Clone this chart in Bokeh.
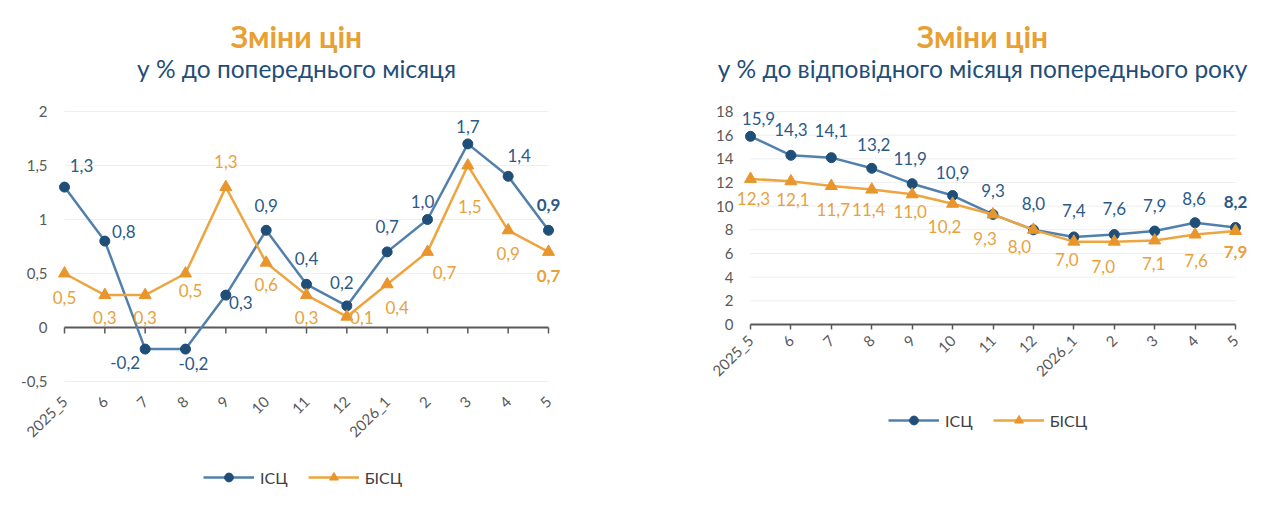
import math

from bokeh.core.properties import value
from bokeh.embed import file_html
from bokeh.layouts import row
from bokeh.models import ColumnDataSource, FixedTicker, Label, Legend, LegendItem, Range1d
from bokeh.plotting import figure
from bokeh.resources import INLINE

# ---- data -------------------------------------------------------------
months = ["2025_5", "6", "7", "8", "9", "10", "11", "12", "2026_1", "2", "3", "4", "5"]

cpi_mom = [1.3, 0.8, -0.2, -0.2, 0.3, 0.9, 0.4, 0.2, 0.7, 1.0, 1.7, 1.4, 0.9]
core_mom = [0.5, 0.3, 0.3, 0.5, 1.3, 0.6, 0.3, 0.1, 0.4, 0.7, 1.5, 0.9, 0.7]

cpi_yoy = [15.9, 14.3, 14.1, 13.2, 11.9, 10.9, 9.3, 8.0, 7.4, 7.6, 7.9, 8.6, 8.2]
core_yoy = [12.3, 12.1, 11.7, 11.4, 11.0, 10.2, 9.3, 8.0, 7.0, 7.0, 7.1, 7.6, 7.9]

mom_ticks = [-0.5, 0, 0.5, 1, 1.5, 2]
mom_tick_labels = ["-0,5", "0", "0,5", "1", "1,5", "2"]
yoy_ticks = [0, 2, 4, 6, 8, 10, 12, 14, 16, 18]
yoy_tick_labels = ["0", "2", "4", "6", "8", "10", "12", "14", "16", "18"]

series_names = ["ІСЦ", "БІСЦ"]
title_text = "Зміни цін"
subtitle_mom = "у % до попереднього місяця"
subtitle_yoy = "у % до відповідного місяця попереднього року"

# ---- styling ----------------------------------------------------------
FONT = "Lato"
ORANGE_TITLE = "#E8A033"
NAVY_TEXT = "#1F4E79"
BLUE_LINE = "#5180AD"
BLUE_MARK = "#1F4E79"
BLUE_LABEL = "#2C5A88"
ORANGE_LINE = "#EDA540"
ORANGE_MARK = "#E8952C"
ORANGE_LABEL = "#E8A23C"
AXIS_GREY = "#595959"
GRID = "#EEEEEE"
W, H = 640, 506

# data-label offsets in pixels (dx, dy; dy positive = downwards)
cpi_mom_off = [(17, -22), (19, -10), (-20, 13), (8, 14), (15, 7), (0, -25), (0, -26),
               (-5, -23), (0, -25), (-5, -18), (0, -17), (11, -21), (0, -25)]
core_mom_off = [(0, 24), (0, 22), (0, 22), (5, 17), (0, -26), (0, 22), (0, 22),
                (15, 1), (10, 23), (17, 21), (2, 41), (0, 23), (0, 24)]
cpi_yoy_off = [(8, -18), (0, -26), (0, -27), (2, -24), (-2, -25), (0, -23), (0, -24),
               (0, -26), (0, -26), (0, -26), (0, -26), (-1, -24), (0, -25)]
core_yoy_off = [(3, 20), (2, 18), (2, 23), (-3, 20), (-2, 17), (-8, 23), (-8, 24),
                (-14, 17), (-7, 18), (-11, 25), (-1, 23), (1, 26), (0, 21)]


def fmt(v):
    return f"{v:.1f}".replace(".", ",")


def label_source(xs, ys, offsets):
    n = len(xs)
    return ColumnDataSource(dict(
        x=xs, y=ys, text=[fmt(v) for v in ys],
        dx=[o[0] for o in offsets], dy=[o[1] for o in offsets],
        style=["bold" if i == n - 1 else "normal" for i in range(n)],
    ))


def make_chart(subtitle, cpi, core, ticks, tick_labels, geom, cpi_off, core_off,
               labels_at, label_standoff, title_x, legend_loc):
    """geom = (pixel of first category, px per category, top-anchor value,
    its pixel row, px per unit) -- the plot frame covers the whole canvas."""
    x0_px, ppx, y_ref, y_ref_px, ppy = geom
    x_start = -x0_px / ppx
    y_end = y_ref + y_ref_px / ppy
    p = figure(width=W, height=H, output_backend="svg", toolbar_location=None,
               x_range=Range1d(x_start, x_start + W / ppx),
               y_range=Range1d(y_end - H / ppy, y_end),
               min_border_left=0, min_border_right=0,
               min_border_top=0, min_border_bottom=0)
    p.outline_line_color = None
    p.background_fill_color = "white"
    p.border_fill_color = "white"
    p.xgrid.visible = False
    p.ygrid.visible = False

    xs = list(range(len(months)))

    # horizontal grid lines spanning the category range
    p.segment(x0=[xs[0]] * len(ticks), x1=[xs[-1]] * len(ticks), y0=ticks, y1=ticks,
              line_color=GRID, line_width=1)

    # category axis
    xa = p.xaxis[0]
    xa.fixed_location = labels_at
    xa.ticker = FixedTicker(ticks=xs)
    xa.major_label_overrides = {i: m for i, m in enumerate(months)}
    xa.major_label_orientation = math.pi / 4
    xa.major_label_text_font = FONT
    xa.major_label_text_font_size = "15px"
    xa.major_label_text_color = AXIS_GREY
    xa.minor_tick_line_color = None
    xa.major_label_standoff = label_standoff
    if labels_at != 0:
        # labels sit low, the zero line with its ticks is drawn separately
        xa.axis_line_color = None
        xa.major_tick_line_color = None
        tick_len = 6 / ppy
        p.segment(x0=[xs[0]], x1=[xs[-1]], y0=[0], y1=[0], line_color=AXIS_GREY, line_width=2)
        p.segment(x0=xs, x1=xs, y0=[0] * len(xs), y1=[-tick_len] * len(xs),
                  line_color=AXIS_GREY, line_width=1.5)
    else:
        xa.bounds = (xs[0], xs[-1])
        xa.axis_line_color = AXIS_GREY
        xa.axis_line_width = 2
        xa.major_tick_line_color = AXIS_GREY
        xa.major_tick_line_width = 1.5
        xa.major_tick_in = 0
        xa.major_tick_out = 5

    ya = p.yaxis[0]
    ya.fixed_location = x_start + (x0_px - 8) / ppx
    ya.ticker = FixedTicker(ticks=ticks)
    ya.major_label_overrides = {t: l for t, l in zip(ticks, tick_labels)}
    ya.axis_line_color = None
    ya.major_tick_line_color = None
    ya.minor_tick_line_color = None
    ya.major_label_standoff = 3
    ya.major_label_text_font = FONT
    ya.major_label_text_font_size = "15px"
    ya.major_label_text_color = AXIS_GREY

    l1 = p.line(xs, cpi, line_color=BLUE_LINE, line_width=2.5)
    s1 = p.scatter(xs, cpi, marker="circle", size=10, fill_color=BLUE_MARK, line_color=BLUE_MARK)
    l2 = p.line(xs, core, line_color=ORANGE_LINE, line_width=2.5)
    s2 = p.scatter(xs, core, marker="triangle", size=12, fill_color=ORANGE_MARK, line_color=ORANGE_MARK)

    for vals, offs, color in ((cpi, cpi_off, BLUE_LABEL), (core, core_off, ORANGE_LABEL)):
        p.text(x="x", y="y", text="text", x_offset="dx", y_offset="dy",
               text_align="center", text_baseline="middle",
               text_font=value(FONT), text_font_size="17px", text_font_style="style",
               text_color=color, source=label_source(xs, vals, offs))

    legend = Legend(items=[LegendItem(label=series_names[0], renderers=[l1, s1]),
                           LegendItem(label=series_names[1], renderers=[l2, s2])],
                    orientation="horizontal", location=legend_loc,
                    glyph_width=51, glyph_height=22, label_standoff=6, spacing=20,
                    padding=0, margin=0, border_line_alpha=0, background_fill_alpha=0,
                    label_text_font=FONT, label_text_font_size="16px",
                    label_text_color="#404040")
    p.add_layout(legend, "center")

    p.add_layout(Label(x=title_x, y=H - 35, x_units="screen", y_units="screen",
                       text=title_text, text_align="center", text_baseline="middle",
                       text_font=FONT, text_font_size="30px", text_font_style="bold",
                       text_color=ORANGE_TITLE))
    p.add_layout(Label(x=title_x, y=H - 68, x_units="screen", y_units="screen",
                       text=subtitle, text_align="center", text_baseline="middle",
                       text_font=FONT, text_font_size="24.5px",
                       text_color=NAVY_TEXT))
    return p


p_mom = make_chart(subtitle_mom, cpi_mom, core_mom, mom_ticks, mom_tick_labels,
                   (64, (548 - 64) / 12, 2, 111, 108),
                   cpi_mom_off, core_mom_off, -0.5, 11, 296, (203, 18))
p_yoy = make_chart(subtitle_yoy, cpi_yoy, core_yoy, yoy_ticks, yoy_tick_labels,
                   (110, (1235 - 750) / 12, 18, 111, 213 / 18),
                   cpi_yoy_off, core_yoy_off, 0, 8, 342, (248, 75))

p = row(p_mom, p_yoy)
open("out.html", "w").write(file_html(p, INLINE))
